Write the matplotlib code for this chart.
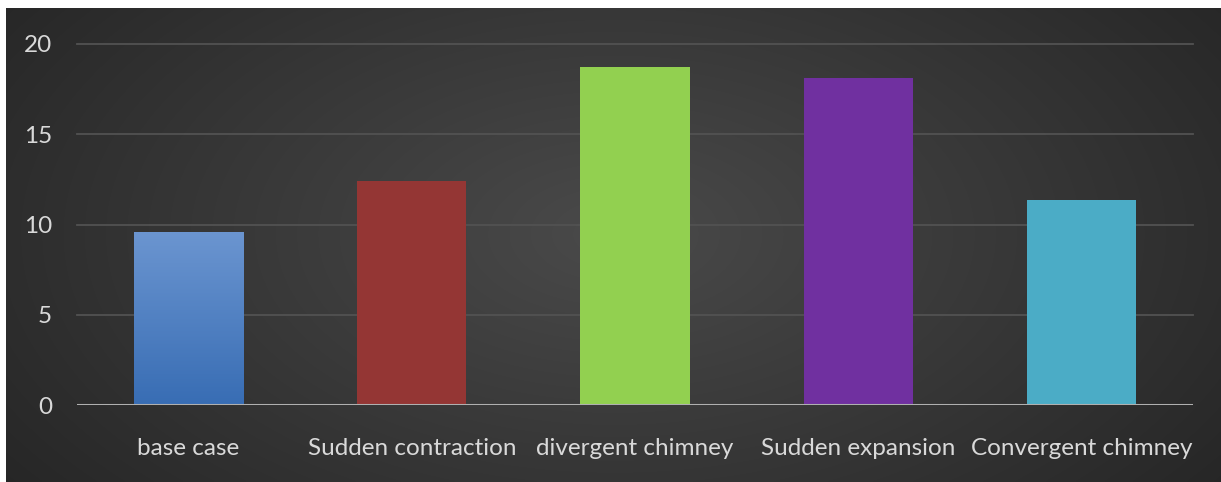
import numpy as np
import matplotlib
matplotlib.use("Agg")
import matplotlib.pyplot as plt

categories = ["base case", "Sudden contraction", "divergent chimney",
              "Sudden expansion", "Convergent chimney"]
values = [9.53, 12.41, 18.70, 18.13, 11.36]
bar_colors = ["#4a7cc0", "#943634", "#92d050", "#7030a0", "#4bacc6"]
yticks = [0, 5, 10, 15, 20]

W, H = 1221, 482
fig = plt.figure(figsize=(W / 100, H / 100), dpi=100)
fig.patch.set_facecolor("white")

# dark radial background panel
bg = fig.add_axes([6 / W, 0, 1 - 6 / W, 1 - 8 / H])
bg.set_axis_off()
yy, xx = np.mgrid[0:200, 0:500]
cx, cy = 250, 95
r = np.sqrt(((xx - cx) / 260.0) ** 2 + ((yy - cy) / 150.0) ** 2)
shade = 0.29 - 0.14 * np.clip(r, 0, 1.2) / 1.2
bg.imshow(np.dstack([shade] * 3), aspect="auto", extent=[0, 1, 0, 1],
          interpolation="bilinear")

ax = fig.add_axes([77 / W, 77 / H, (1193 - 77) / W, (405 - 44) / H])
ax.patch.set_alpha(0)
x = np.arange(len(categories))
bars = ax.bar(x, values, width=0.49, color=bar_colors, zorder=3)

# vertical gradient on the first bar
b0 = bars[0]
b0.set_facecolor("none")
grad = np.linspace(0, 1, 100).reshape(-1, 1)
top_c = np.array([0x6b, 0x95, 0xd0]) / 255
bot_c = np.array([0x38, 0x6d, 0xb4]) / 255
img = bot_c + (top_c - bot_c) * grad
x0 = b0.get_x()
ax.imshow(img[:, None, :].repeat(2, axis=1), origin="lower", aspect="auto",
          extent=[x0, x0 + b0.get_width(), 0, values[0]], zorder=3)

ax.set_xlim(-0.5, len(categories) - 0.5)
ax.set_ylim(0, 20)
ax.set_yticks(yticks)
ax.set_xticks(x)
ax.set_xticklabels(categories)
for yv in yticks[1:]:
    ax.axhline(yv, color="#525252", lw=1.3, zorder=1, clip_on=False)
ax.axhline(0, color="#b0b0b0", lw=2.2, zorder=4)

for s in ax.spines.values():
    s.set_visible(False)
ax.tick_params(length=0, colors="#d9d9d9", labelsize=17.5)
ax.tick_params(axis="y", pad=18)
ax.tick_params(axis="x", pad=24)
for t in ax.get_xticklabels() + ax.get_yticklabels():
    t.set_family(["Lato", "DejaVu Sans"])

fig.savefig("out.png", dpi=100, facecolor=fig.get_facecolor())
